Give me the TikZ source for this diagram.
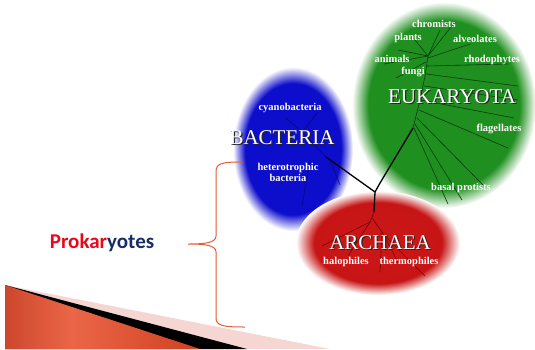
\documentclass[tikz,border=0pt]{standalone}
\usepackage{fontspec}
\setmainfont{Liberation Serif}
\newfontfamily\calibri{Carlito}
\usetikzlibrary{positioning}

\definecolor{prokred}{RGB}{232,8,28}
\definecolor{prokblue}{RGB}{24,44,104}
\definecolor{bracecol}{RGB}{226,92,52}
\definecolor{eukline}{RGB}{8,58,8}
\definecolor{bactline}{RGB}{8,8,120}
\definecolor{archline}{RGB}{110,4,4}
\definecolor{ribpink}{RGB}{246,214,210}

\pgfdeclareradialshading{bluefade}{\pgfpoint{0bp}{0bp}}{rgb(0bp)=(0.05,0.05,0.80);rgb(20bp)=(0.05,0.05,0.80);rgb(25bp)=(1,1,1);rgb(50bp)=(1,1,1)}
\pgfdeclareradialshading{greenfade}{\pgfpoint{0bp}{0bp}}{rgb(0bp)=(0.12,0.56,0.12);rgb(20.5bp)=(0.12,0.56,0.12);rgb(25bp)=(1,1,1);rgb(50bp)=(1,1,1)}
\pgfdeclareradialshading{redfade}{\pgfpoint{0bp}{0bp}}{rgb(0bp)=(0.80,0.09,0.09);rgb(19.5bp)=(0.78,0.08,0.08);rgb(25bp)=(1,1,1);rgb(50bp)=(1,1,1)}
\pgfdeclarehorizontalshading{ribbon}{100bp}{rgb(0bp)=(0.62,0.10,0.02);rgb(42bp)=(0.92,0.40,0.28);rgb(100bp)=(0.74,0.14,0.02)}

\newcommand{\shadowed}[1]{\makebox[0pt][l]{\hspace{1.3pt}\raisebox{-1.3pt}{\color{black!85}#1}}#1}

\tikzset{
	taxon/.style={text=white,font=\bfseries\fontsize{10.5}{11}\selectfont,align=center,inner sep=0pt},
	domaintitle/.style={text=white,font=\fontsize{21}{24}\selectfont,inner sep=0pt},
	trunk/.style={line width=1.3pt,black},
	twig/.style={line width=0.6pt},
}

\begin{document}
\begin{tikzpicture}[x=1pt,y=-1pt]
	\useasboundingbox (0,0) rectangle (535,349);
	% ribbon at bottom left
	\fill[ribpink] (5,285)--(330,349)--(5,349)--cycle;
	\fill[black] (5,285)--(247,349)--(5,349)--cycle;
	\shade[shading=ribbon] (5,285)--(200,349)--(5,349)--cycle;
	% the three domains
	\shade[shading=greenfade] (444,105) ellipse [x radius=92, y radius=103];
	\shade[shading=bluefade] (293,149) ellipse [x radius=60, y radius=82];
	\shade[shading=redfade] (378,243) ellipse [x radius=82, y radius=52];
	% tree
	\coordinate (fork) at (375,192);
	\coordinate (bact) at (326,157);
	\coordinate (euk) at (413,128);
	\coordinate (arch) at (374,212);
	\draw[trunk] (bact)--(fork);
	\draw[trunk] (fork)--(380,183)--(euk);
	\draw[trunk] (fork)--(arch);
	\draw[twig,bactline] (bact)--(302,132)--(286,118);
	\draw[twig,bactline] (302,132)--(318,112);
	\draw[twig,bactline] (310,160)--(302,206);
	\draw[twig,bactline] (330,160)--(340,185);
	\draw[twig,eukline] (euk)--(420,100)--(425,76)--(428,56);
	\draw[twig,eukline] (428,56)--(415,40);
	\draw[twig,eukline] (428,56)--(398,50);
	\draw[twig,eukline] (428,56)--(384,64);
	\draw[twig,eukline] (426,62)--(396,78);
	\draw[twig,eukline] (428,56)--(440,30);
	\draw[twig,eukline] (428,56)--(455,22);
	\draw[twig,eukline] (428,58)--(470,44);
	\draw[twig,eukline] (427,66)--(508,64);
	\draw[twig,eukline] (426,74)--(518,86);
	\draw[twig,eukline] (424,86)--(518,100);
	\draw[twig,eukline] (421,100)--(514,118);
	\draw[twig,eukline] (419,110)--(508,148);
	\draw[twig,eukline] (417,118)--(484,186);
	\draw[twig,eukline] (415,124)--(462,200);
	\draw[twig,eukline] (414,128)--(448,204);
	\draw[twig,archline] (arch)--(370,222);
	\draw[twig,archline] (370,222)--(322,246);
	\draw[twig,archline] (370,222)--(348,256);
	\draw[twig,archline] (372,218)--(382,232)--(398,262);
	\draw[twig,archline] (382,232)--(380,272);
	\draw[twig,archline] (385,236)--(425,276);
	% labels
	\node[domaintitle] (bacteria) at (282,138) {\shadowed{BACTERIA}};
	\node[domaintitle] (eukaryota) at (452,97) {\shadowed{EUKARYOTA}};
	\node[domaintitle] (archaea) at (380,243) {\shadowed{ARCHAEA}};
	\node[taxon] (cyano) at (290,108) {cyanobacteria};
	\node[taxon] (hetero) at (288,172) {heterotrophic\\bacteria};
	\node[taxon] (chromists) at (434,24) {chromists};
	\node[taxon] (plants) at (408,38) {plants};
	\node[taxon] (alveolates) at (475,39) {alveolates};
	\node[taxon] (animals) at (392,59) {animals};
	\node[taxon] (rhodo) at (492,60) {rhodophytes};
	\node[taxon] (fungi) at (413,72) {fungi};
	\node[taxon] (flag) at (499,129) {flagellates};
	\node[taxon] (basal) at (461,188) {basal protists};
	\node[taxon] (halo) at (346,262) {halophiles};
	\node[taxon] (thermo) at (409,262) {thermophiles};
	\node[font=\calibri\bfseries\fontsize{21}{24}\selectfont,inner sep=0pt] (prok) at (102,243) {\textcolor{prokred}{Prokar}\textcolor{prokblue}{yotes}};
	% brace
	\coordinate (tip) at (188,244);
	\draw[bracecol,line width=1pt] (243,162) .. controls (222,162) and (216,163) .. (216,172)
		-- (216,236) .. controls (216,243) and (204,244) .. (tip)
		.. controls (204,244) and (216,245) .. (216,252)
		-- (216,318) .. controls (216,326) and (224,327) .. (245,327);
\end{tikzpicture}
\end{document}
